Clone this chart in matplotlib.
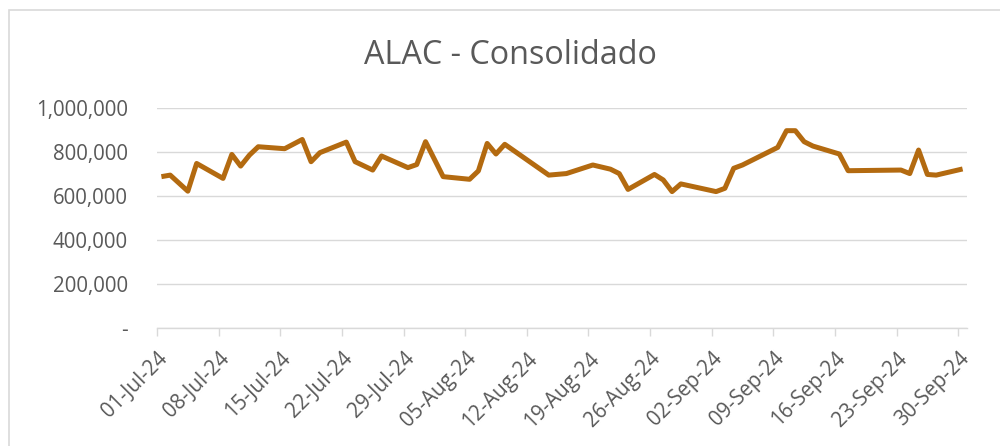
import numpy as np
import pandas as pd
import matplotlib
matplotlib.use("Agg")
import matplotlib.pyplot as plt
import matplotlib.dates as mdates
from matplotlib.ticker import FuncFormatter
from matplotlib.patches import Rectangle

# Data (daily values, only visible vertices)
dates = ["2024-07-01", "2024-07-02", "2024-07-04", "2024-07-05", "2024-07-08",
         "2024-07-09", "2024-07-10", "2024-07-11", "2024-07-12", "2024-07-15",
         "2024-07-17", "2024-07-18", "2024-07-19", "2024-07-22", "2024-07-23",
         "2024-07-25", "2024-07-26", "2024-07-29", "2024-07-30", "2024-07-31",
         "2024-08-02", "2024-08-05", "2024-08-06", "2024-08-07", "2024-08-08",
         "2024-08-09", "2024-08-14", "2024-08-16", "2024-08-19", "2024-08-21",
         "2024-08-22", "2024-08-23", "2024-08-26", "2024-08-27", "2024-08-28",
         "2024-08-29", "2024-09-02", "2024-09-03", "2024-09-04", "2024-09-05",
         "2024-09-09", "2024-09-10", "2024-09-11", "2024-09-12", "2024-09-13",
         "2024-09-16", "2024-09-17", "2024-09-23", "2024-09-24", "2024-09-25",
         "2024-09-26", "2024-09-27", "2024-09-30"]
values = [688000, 695000, 622000, 748000, 680000,
          789000, 736000, 786000, 824000, 815000,
          857000, 756000, 797000, 845000, 756000,
          718000, 782000, 729000, 743000, 847000,
          688000, 676000, 714000, 839000, 791000,
          835000, 695000, 702000, 741000, 722000,
          702000, 630000, 698000, 673000, 620000,
          655000, 620000, 635000, 726000, 741000,
          821000, 897000, 897000, 847000, 827000,
          791000, 715000, 718000, 702000, 809000,
          698000, 695000, 723000]

title = "ALAC - Consolidado"
line_color = "#B36A10"
text_color = "#595959"
grid_color = "#d9d9d9"

plt.rcParams['font.family'] = ['Open Sans', 'DejaVu Sans']

x = pd.to_datetime(dates) + pd.Timedelta(hours=12)  # points centred in day bins

fig = plt.figure(figsize=(10, 4.46), dpi=100)
ax = fig.add_axes([0.157, 0.2646, 0.81, 0.4932])

# chart area border (runs off the right/bottom of the image)
fig.patches.append(Rectangle((9 / 1000, -0.1), 1.2, 1 - 10 / 446 + 0.1,
                             transform=fig.transFigure, fill=False,
                             edgecolor=grid_color, linewidth=1.2))

ax.plot(x, values, color=line_color, linewidth=3.6,
        solid_joinstyle="round", solid_capstyle="butt", zorder=3)

ax.set_ylim(0, 1000000)
ax.set_yticks(np.arange(0, 1000001, 200000))
ax.yaxis.set_major_formatter(FuncFormatter(lambda v, p: "-" if v == 0 else f"{v:,.0f}"))
ax.set_xlim(pd.Timestamp("2024-07-01"), pd.Timestamp("2024-10-01"))
ax.set_xticks(pd.date_range("2024-07-01", "2024-09-30", freq="7D"))
ax.xaxis.set_major_formatter(mdates.DateFormatter("%d-%b-%y"))

ax.grid(axis="y", color=grid_color, linewidth=1.0)
ax.set_axisbelow(True)
for s in ["top", "right", "left"]:
    ax.spines[s].set_visible(False)
ax.spines["bottom"].set_color(grid_color)
ax.spines["bottom"].set_linewidth(1.0)

ax.tick_params(axis="y", length=0, pad=21, labelsize=14.8, labelcolor=text_color)
ax.tick_params(axis="x", length=5.5, width=1.0, color=grid_color, direction="out",
               labelsize=14.8, labelcolor=text_color, pad=9)
for lbl in ax.get_xticklabels():
    lbl.set_rotation(45)
    lbl.set_ha("right")
    lbl.set_va("top")
    lbl.set_rotation_mode("anchor")

fig.text(0.51, 0.876, title, ha="center", va="center", fontsize=23.3, color=text_color)

fig.savefig("out.png", dpi=100)
